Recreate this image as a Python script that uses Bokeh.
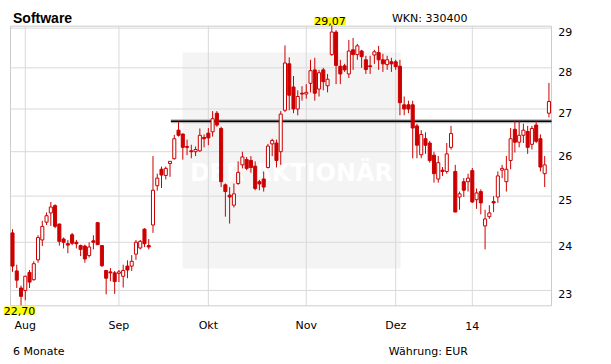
import numpy as np
from bokeh.plotting import figure
from bokeh.models import Range1d, BoxAnnotation, Label, ColumnDataSource
from bokeh.core.properties import value
from bokeh.embed import file_html
from bokeh.resources import INLINE

# ---- data ----
opens = [24.20, 23.40, 23.05, 23.00, 23.37, 23.22, 23.63, 24.05, 24.43, 24.63,
         24.79, 24.39, 24.07, 23.97, 24.16, 24.00, 23.93, 23.92, 23.72, 24.03,
         24.42, 23.93, 23.41, 23.38, 23.36, 23.35, 23.29, 23.50, 23.50, 23.75,
         23.88, 24.28, 23.93, 24.37, 25.23, 25.60, 25.46, 25.73, 25.84, 26.50,
         26.41, 26.12, 26.02, 26.00, 26.02, 26.33, 26.43, 26.46, 26.90, 26.54,
         25.25, 25.02, 24.80, 25.28, 25.70, 25.82, 25.80, 25.67, 25.32, 25.38,
         25.64, 26.18, 26.20, 26.00, 26.97, 28.10, 27.53, 27.00, 27.38, 27.36,
         27.62, 27.95, 27.48, 27.95, 27.56, 28.33, 28.90, 28.04, 28.05, 27.85,
         28.45, 28.33, 28.42, 28.20, 28.05, 28.32, 28.38, 28.20, 28.08, 28.15,
         28.15, 28.04, 27.10, 27.10, 27.10, 26.60, 25.93, 26.30, 26.20, 25.92,
         25.38, 25.58, 25.55, 26.10, 25.55, 24.98, 25.32, 25.32, 25.57, 24.92,
         25.10, 24.35, 24.55, 24.88, 24.98, 25.58, 25.32, 25.80, 26.52, 26.22,
         26.38, 26.47, 26.17, 26.62, 26.30, 25.50, 26.90]
highs = [24.28, 23.53, 23.10, 23.30, 23.42, 23.60, 24.15, 24.46, 24.64, 24.87,
         24.82, 24.40, 24.10, 24.05, 24.20, 24.05, 23.95, 23.95, 24.00, 24.15,
         24.43, 23.94, 23.42, 23.46, 23.40, 23.42, 23.53, 23.62, 23.73, 24.05,
         24.05, 24.30, 24.07, 25.90, 25.50, 25.66, 25.66, 25.78, 26.39, 26.70,
         26.42, 26.28, 26.16, 26.12, 26.54, 26.40, 26.55, 26.95, 26.95, 26.58,
         25.28, 25.20, 25.28, 25.78, 26.00, 25.88, 25.90, 25.78, 25.36, 25.55,
         26.18, 26.30, 26.28, 26.95, 28.56, 28.26, 27.80, 27.45, 27.55, 27.60,
         28.20, 28.25, 27.95, 28.00, 27.85, 29.07, 28.95, 28.20, 28.10, 28.70,
         28.75, 28.60, 28.45, 28.30, 28.30, 28.45, 28.55, 28.35, 28.30, 28.25,
         28.20, 28.20, 27.30, 27.20, 27.20, 26.65, 26.50, 26.45, 26.25, 26.00,
         25.90, 25.65, 26.20, 26.60, 25.70, 25.10, 25.40, 25.50, 25.63, 25.17,
         25.15, 24.70, 24.80, 25.00, 25.55, 25.70, 25.90, 26.55, 26.72, 26.72,
         26.65, 26.60, 26.60, 26.72, 26.40, 25.90, 27.63]
lows = [23.38, 23.05, 22.70, 22.80, 23.05, 23.20, 23.57, 23.92, 24.37, 24.35,
        24.30, 23.93, 23.87, 23.77, 23.94, 23.87, 23.71, 23.57, 23.68, 23.85,
        23.95, 23.48, 22.92, 23.19, 22.93, 23.17, 23.06, 23.25, 23.40, 23.63,
        23.85, 23.90, 23.85, 24.20, 25.12, 25.18, 25.37, 25.43, 25.82, 26.35,
        25.82, 25.92, 25.85, 25.90, 26.00, 26.10, 26.15, 26.35, 26.58, 25.20,
        24.55, 24.40, 24.75, 25.25, 25.62, 25.58, 25.52, 25.13, 25.13, 25.10,
        25.62, 25.90, 25.64, 25.70, 26.93, 26.97, 26.90, 26.85, 27.20, 27.25,
        27.40, 27.20, 27.30, 27.45, 27.40, 28.30, 27.60, 27.60, 27.90, 27.75,
        27.95, 28.20, 28.00, 27.85, 27.85, 28.10, 27.95, 27.90, 27.95, 27.90,
        27.95, 26.85, 26.85, 26.90, 25.85, 25.85, 25.85, 25.95, 25.75, 25.30,
        25.30, 25.45, 25.50, 26.05, 24.65, 24.70, 24.98, 25.10, 24.85, 24.72,
        24.60, 23.85, 24.50, 24.65, 24.85, 25.40, 25.10, 25.60, 25.98, 26.10,
        26.20, 25.95, 26.05, 26.20, 25.55, 25.20, 26.80]
closes = [23.50, 23.21, 22.88, 23.29, 23.17, 23.55, 24.10, 24.34, 24.57, 24.76,
          24.34, 24.02, 24.00, 23.94, 23.98, 23.97, 23.85, 23.65, 23.90, 24.00,
          23.95, 23.51, 23.25, 23.36, 23.18, 23.38, 23.41, 23.42, 23.60, 24.00,
          24.02, 23.97, 23.90, 25.13, 25.40, 25.47, 25.62, 25.78, 26.30, 26.38,
          26.10, 26.10, 26.00, 26.05, 26.38, 26.30, 26.32, 26.77, 26.62, 25.32,
          25.10, 24.98, 25.05, 25.53, 25.88, 25.62, 25.64, 25.17, 25.27, 25.20,
          26.13, 26.26, 25.80, 26.88, 28.12, 27.33, 27.00, 27.30, 27.36, 27.40,
          27.93, 27.38, 27.88, 27.66, 27.72, 28.90, 28.06, 27.85, 27.95, 28.42,
          28.33, 28.55, 28.28, 27.96, 28.03, 28.40, 28.20, 28.10, 28.20, 28.10,
          28.03, 27.15, 27.00, 27.00, 26.55, 26.15, 26.40, 26.15, 25.80, 25.50,
          25.75, 25.55, 25.95, 26.42, 24.65, 25.05, 25.13, 25.40, 24.87, 25.07,
          24.85, 24.50, 24.63, 24.85, 25.45, 25.62, 25.60, 26.30, 26.22, 26.38,
          26.50, 26.10, 26.54, 26.24, 25.65, 25.70, 27.18]

month_tick_idx = [3, 25, 46, 69, 90, 108]
month_labels = ["Aug", "Sep", "Okt", "Nov", "Dez", "14"]
price_ticks = [23, 24, 25, 26, 27, 28, 29]
price_labels = ["23", "24", "25", "26", "27", "28", "29"]
resistance_x = [37.2, 126.6]
resistance_y = [26.71, 26.71]

# ---- layout settings ----
W, H = 611, 364
CX0, CX1 = -0.47, 126.6          # chart area x extent (candle index units)
CY0, CY1 = 22.69, 29.05          # chart area y extent (price)
PX_L, PX_R, PX_T, PX_B = 10, 551, 25.7, 305.3   # chart area in canvas pixels

pxu = (PX_R - PX_L) / (CX1 - CX0)
XA = CX0 - PX_L / pxu
XB = CX1 + (W - PX_R) / pxu
k = np.log(CY1 / CY0) / (PX_B - PX_T)
YTOP = CY1 * np.exp(PX_T * k)
YBOT = CY0 * np.exp(-(H - PX_B) * k)

RED = "#cc0000"
GRID = "#d9d9d9"
FONT = "DejaVu Sans"

o = np.array(opens); h = np.array(highs); l = np.array(lows); c = np.array(closes)
idx = np.arange(len(o))
inc = c >= o
dec = ~inc

p = figure(width=W, height=H, x_range=Range1d(XA, XB), y_range=Range1d(YBOT, YTOP),
           y_axis_type="log", x_axis_location=None, y_axis_location=None,
           output_backend="svg", toolbar_location=None, title=None, min_border=0)
p.grid.visible = False
p.outline_line_color = None
p.background_fill_color = "white"
p.border_fill_color = "white"

# watermark (screen units, frame = whole canvas, y from bottom)
p.add_layout(BoxAnnotation(left=182, right=400, bottom=H - 268, top=H - 52,
                           left_units="screen", right_units="screen",
                           bottom_units="screen", top_units="screen",
                           fill_color="#f4f4f4", fill_alpha=1.0, line_color=None,
                           level="underlay"))
p.add_layout(Label(x=291, y=H - 172, x_units="screen", y_units="screen", text="DER AKTIONÄR",
                   text_font=FONT, text_font_style="bold", text_font_size="24px",
                   text_color="white", text_align="center", text_baseline="alphabetic",
                   level="underlay"))

# grid lines
p.segment(x0=month_tick_idx, x1=month_tick_idx, y0=[CY0] * len(month_tick_idx),
          y1=[CY1] * len(month_tick_idx), line_color=GRID, line_width=1)
p.segment(x0=[CX0] * len(price_ticks), x1=[CX1] * len(price_ticks), y0=price_ticks,
          y1=price_ticks, line_color=GRID, line_width=1)
# chart border
p.quad(left=[CX0], right=[CX1], bottom=[CY0], top=[CY1], fill_color=None,
       line_color="#cccccc", line_width=1)

# tick labels
p.text(x=month_tick_idx, y=[CY0] * len(month_tick_idx), text=month_labels,
       y_offset=19.7, text_font=value(FONT), text_font_size=value("11px"),
       text_color="black", text_align="center", text_baseline="alphabetic")
p.text(x=[CX1] * len(price_ticks), y=price_ticks, text=price_labels,
       x_offset=6.7, y_offset=4, text_font=value(FONT), text_font_size=value("11px"),
       text_color="black", text_align="left", text_baseline="alphabetic")

# resistance line
p.line(resistance_x, resistance_y, line_color="#999999", line_width=4, line_alpha=0.7)
p.line(resistance_x, resistance_y, line_color="black", line_width=1.6)

# candles
p.segment(x0=idx, y0=l, x1=idx, y1=h, line_color=RED, line_width=1)
src_inc = ColumnDataSource(dict(x=idx[inc], top=c[inc], bottom=o[inc]))
src_dec = ColumnDataSource(dict(x=idx[dec], top=o[dec], bottom=c[dec]))
p.vbar(x="x", top="top", bottom="bottom", width=0.72, source=src_inc,
       fill_color="white", line_color=RED, line_width=1)
p.vbar(x="x", top="top", bottom="bottom", width=0.72, source=src_dec,
       fill_color=RED, line_color=RED, line_width=1)

# max / min labels
imax = int(np.argmax(h)); imin = int(np.argmin(l))
p.add_layout(Label(x=imax, y=H - 24.5, x_units="data", y_units="screen", x_offset=-1.7,
                   text=f"{h[imax]:.2f}".replace(".", ","), text_font=FONT, text_font_size="11px",
                   text_color="black", text_align="center", text_baseline="bottom",
                   background_fill_color="#ffff00"))
p.add_layout(Label(x=imin, y=H - 306, x_units="data", y_units="screen", x_offset=-1.5,
                   text=f"{l[imin]:.2f}".replace(".", ","), text_font=FONT, text_font_size="11px",
                   text_color="black", text_align="center", text_baseline="top",
                   background_fill_color="#ffff00"))

# header / footer texts
p.add_layout(Label(x=12.5, y=H - 17.5, x_units="screen", y_units="screen", text="Software",
                   text_font="Liberation Sans", text_font_style="bold", text_font_size="14px",
                   text_color="black", text_baseline="alphabetic"))
p.add_layout(Label(x=467, y=H - 18.3, x_units="screen", y_units="screen", text="WKN: 330400",
                   text_font=FONT, text_font_size="11px", text_color="black",
                   text_align="right", text_baseline="alphabetic"))
p.add_layout(Label(x=12.5, y=H - 351, x_units="screen", y_units="screen", text="6 Monate",
                   text_font=FONT, text_font_size="11px", text_color="black",
                   text_baseline="alphabetic"))
p.add_layout(Label(x=467.5, y=H - 351, x_units="screen", y_units="screen", text="Währung: EUR",
                   text_font=FONT, text_font_size="11px", text_color="black",
                   text_align="right", text_baseline="alphabetic"))

open("out.html", "w").write(file_html(p, INLINE))
